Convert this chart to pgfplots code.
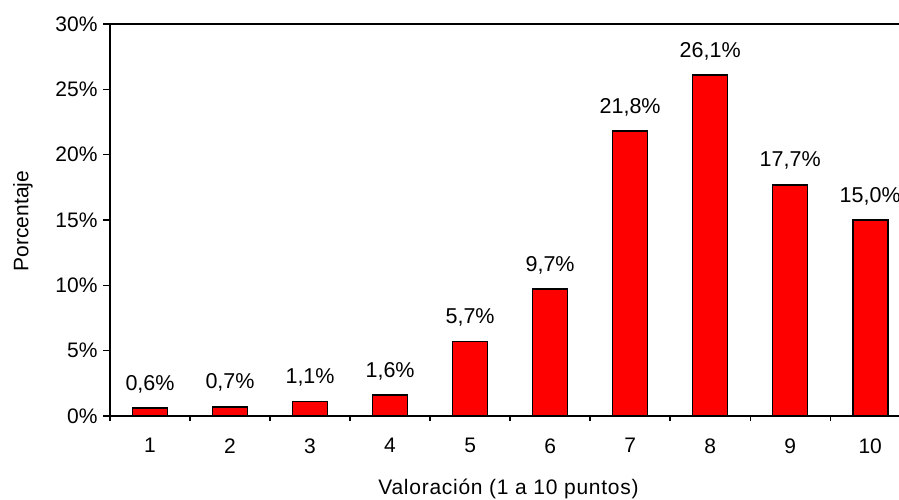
\documentclass[border=0pt]{standalone}
\usepackage{pgfplots}
\pgfplotsset{compat=1.18}
\usepackage{fontspec}
\setmainfont{Liberation Sans}
\begin{document}
\begin{tikzpicture}[x=1pt,y=1pt]
\begin{axis}[
  at={(0,0)}, anchor=south west,
  scale only axis, width=789pt, height=392pt,
  xmin=0.5, xmax=10.36, ymin=0, ymax=30,
  axis x line*=bottom, axis y line*=left,
  axis line style={line width=1.6pt, black},
  clip=false,
  font=\fontsize{21}{25}\selectfont,
  /pgf/number format/assume math mode=true,
  xtick={1,...,10},
  minor xtick={0.5,1.5,...,9.5},
  ytick={0,5,...,30},
  tick align=outside,
  major tick length=7pt,
  minor tick length=5pt,
  major x tick style={draw=none},
  tick style={line width=1.3pt, black},
  yticklabel={\pgfmathprintnumber{\tick}\%},
  xticklabel style={yshift=-12pt},
  yticklabel style={xshift=-2pt},
  ylabel={Porcentaje},
  xlabel={\addfontfeatures{LetterSpace=3.5}Valoración (1 a 10 puntos)},
  every axis y label/.style={at={(rel axis cs:0,0.5)}, xshift=-87pt, yshift=-1pt, rotate=90, anchor=center},
  every axis x label/.style={at={(rel axis cs:0.5,0)}, yshift=-73pt, xshift=4pt, anchor=center},
]
\addplot[ybar, bar width=35pt, fill=red, draw=black, line width=1.6pt,
  nodes near coords={\pgfmathprintnumber[fixed,fixed zerofill,precision=1,use comma]{\pgfplotspointmeta}\%},
  every node near coord/.append style={font=\fontsize{21.5}{25}\selectfont, anchor=south, yshift=11pt, black}]
coordinates {(1,0.6) (2,0.7) (3,1.1) (4,1.6) (5,5.7) (6,9.7) (7,21.8) (8,26.1) (9,17.7) (10,15.0)};
\draw[line width=1.6pt, black] (rel axis cs:0,1) -- (rel axis cs:1,1);
\end{axis}
\pgfresetboundingbox
\path[use as bounding box] (-110,-83) rectangle (789,416);
\end{tikzpicture}
\end{document}
